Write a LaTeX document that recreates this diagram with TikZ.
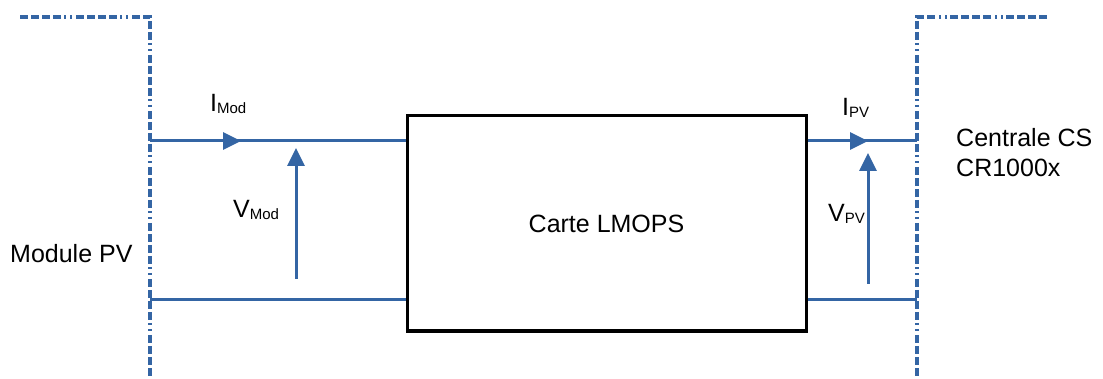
\documentclass[tikz,border=0pt]{standalone}
\usepackage{fontspec}
\setmainfont{Liberation Sans}
\usetikzlibrary{arrows.meta}
\definecolor{wireblue}{RGB}{52,101,164}
\tikzset{
  wire/.style={draw=wireblue, line width=3pt},
  bound/.style={draw=wireblue, line width=3.5pt,
    dash pattern=on 8pt off 3pt on 8pt off 3pt on 8pt off 3pt on 8pt off 3pt on 2pt off 4pt on 2pt off 4pt},
  arr/.style={wire, -{Triangle[length=18pt,width=17pt]}},
  lbl/.style={font=\fontsize{25}{30}\selectfont, inner sep=0pt},
  blk/.style={draw=black, line width=3pt, minimum width=399pt, minimum height=215pt, inner sep=0pt}
}
\newcommand{\sbs}[1]{{\fontsize{15}{15}\selectfont\raisebox{-0.12em}{#1}}}
\begin{document}
\begin{tikzpicture}[x=1pt,y=-1pt]
\useasboundingbox (0,0) rectangle (1103,379);
% boundaries
\coordinate (lt) at (20,17);
\coordinate (lc) at (150,17);
\coordinate (lb) at (150,379);
\coordinate (rc) at (917,17);
\coordinate (rt) at (1047,17);
\coordinate (rb) at (917,379);
\draw[bound] (lt) -- (lc) -- (lb);
\draw[bound] (rt) -- (rc) -- (rb);
% block
\node[blk, lbl] (box) at (606.5,223.5) {Carte LMOPS};
% wires
\coordinate (l1) at (150,141);
\coordinate (l2) at (150,300);
\coordinate (r1) at (917,141);
\coordinate (r2) at (917,300);
\draw[wire] (l1) -- (l1 -| box.west);
\draw[wire] (l2) -- (l2 -| box.west);
\draw[wire] (r1 -| box.east) -- (r1);
\draw[wire] (r2 -| box.east) -- (r2);
% current arrows
\coordinate (imt) at (241,141);
\coordinate (ipt) at (868,141);
\draw[arr] (l1) -- (imt);
\draw[arr] (r1 -| box.east) -- (ipt);
% voltage arrows
\coordinate (vm0) at (296,279);
\coordinate (vm1) at (296,148);
\coordinate (vp0) at (868,284);
\coordinate (vp1) at (868,153);
\draw[arr] (vm0) -- (vm1);
\draw[arr] (vp0) -- (vp1);
% labels
\node[lbl, anchor=base west] (im) at (210,112) {I\sbs{Mod}};
\node[lbl, anchor=base west] (vm) at (233,218) {V\sbs{Mod}};
\node[lbl, anchor=base west] (ip) at (842,116) {I\sbs{PV}};
\node[lbl, anchor=base west] (vp) at (828,222) {V\sbs{PV}};
\node[lbl, anchor=base west] (mod) at (10,263) {Module PV};
\node[lbl, anchor=base west, align=left] (cs) at (956,177) {Centrale CS\\CR1000x};
\end{tikzpicture}
\end{document}
